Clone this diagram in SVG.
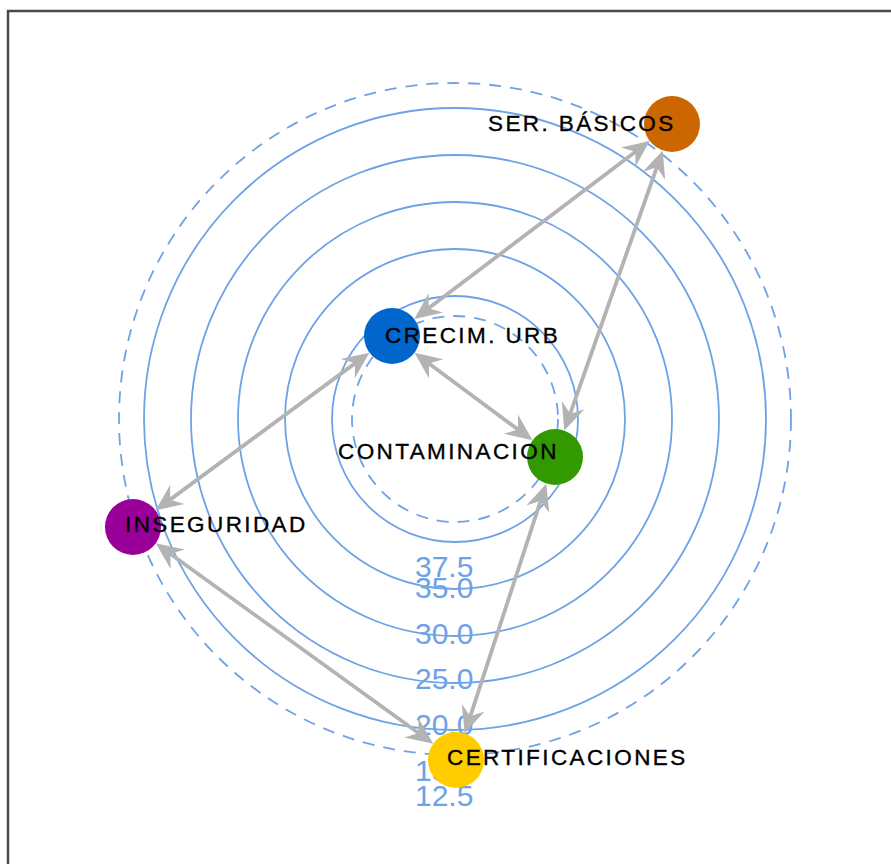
<svg xmlns="http://www.w3.org/2000/svg" width="891" height="864" viewBox="0 0 891 864">
  <style>
    .ring { fill: none; stroke: #6ea2e6; stroke-width: 1.8; }
    .dash { stroke-dasharray: 12 9; }
    .tick { font-family: "Liberation Sans", Arial, sans-serif; font-size: 30px; fill: #6ea2e6; }
    .edge { stroke: #b3b3b3; stroke-width: 3.8; fill: none; marker-start: url(#ah); marker-end: url(#ah); }
    .lbl { font-family: "Liberation Sans", Arial, sans-serif; font-size: 22.5px; letter-spacing: 2.4px; fill: #000; stroke: #000; stroke-width: 0.35px; }
  </style>
  <defs>
    <marker id="ah" markerUnits="userSpaceOnUse" markerWidth="40" markerHeight="40" refX="-5" refY="0" orient="auto-start-reverse" overflow="visible" viewBox="-30 -15 40 30">
      <path d="M0,0 L-27,-12 L-18,0 L-27,12 Z" fill="#b3b3b3"/>
    </marker>
  </defs>
  <rect x="0" y="0" width="891" height="864" fill="#ffffff"/>
  <path d="M8,864 L8,11 L891,11" fill="none" stroke="#4a4a4a" stroke-width="2.5"/>

  <g id="rings">
    <circle class="ring dash" cx="455" cy="419" r="336"/>
    <circle class="ring" cx="455" cy="419" r="311"/>
    <circle class="ring" cx="455" cy="419" r="264"/>
    <circle class="ring" cx="455" cy="419" r="217"/>
    <circle class="ring" cx="455" cy="419" r="170"/>
    <circle class="ring" cx="455" cy="419" r="123"/>
    <circle class="ring dash" cx="455" cy="419" r="103"/>
  </g>
  <g id="axis-labels">
    <text class="tick" x="415" y="577">37.5</text>
    <text class="tick" x="415" y="598">35.0</text>
    <text class="tick" x="415" y="644">30.0</text>
    <text class="tick" x="415" y="689">25.0</text>
    <text class="tick" x="415" y="735">20.0</text>
    <text class="tick" x="415" y="781">15.0</text>
    <text class="tick" x="415" y="806">12.5</text>
  </g>

  <g id="connectors">
    <line class="edge" x1="645.7" y1="143.9" x2="418.3" y2="316.1"/>
    <line class="edge" x1="661.1" y1="155.1" x2="565.9" y2="425.9"/>
    <line class="edge" x1="418.5" y1="355.7" x2="528.5" y2="437.3"/>
    <line class="edge" x1="365.4" y1="355.6" x2="159.6" y2="507.4"/>
    <line class="edge" x1="159.8" y1="546.3" x2="429.2" y2="740.7"/>
    <line class="edge" x1="544.7" y1="488.4" x2="466.3" y2="728.6"/>
  </g>

  <g id="node-ser-basicos">
    <circle cx="672" cy="124" r="28" fill="#cc6600"/>
    <text class="lbl" x="488" y="131">SER. BÁSICOS</text>
  </g>
  <g id="node-crecim-urb">
    <circle cx="392" cy="336" r="28" fill="#0066cc"/>
    <text class="lbl" x="385" y="343">CRECIM. URB</text>
  </g>
  <g id="node-contaminacion">
    <circle cx="555" cy="457" r="28" fill="#339900"/>
    <text class="lbl" x="338" y="459">CONTAMINACION</text>
  </g>
  <g id="node-inseguridad">
    <circle cx="133" cy="527" r="28" fill="#990099"/>
    <text class="lbl" x="125" y="532">INSEGURIDAD</text>
  </g>
  <g id="node-certificaciones">
    <circle cx="456" cy="760" r="28" fill="#ffcc00"/>
    <text class="lbl" x="447" y="765">CERTIFICACIONES</text>
  </g>
</svg>
